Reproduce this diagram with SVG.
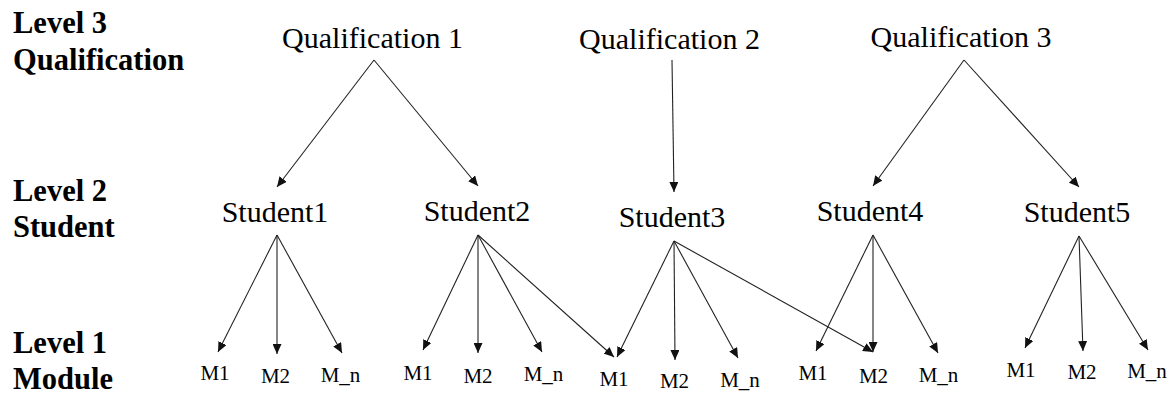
<svg xmlns="http://www.w3.org/2000/svg" width="1176" height="394" viewBox="0 0 1176 394">
<style>
text{font-family:'Liberation Serif','Times New Roman',serif;fill:#000}
.lvl{font-weight:bold;font-size:30.5px}
.n{font-size:30px;text-anchor:middle}
.m{font-size:21px;text-anchor:middle}
.c line{stroke:#222;stroke-width:1.1;marker-end:url(#ah)}
</style>
<defs>
<marker id="ah" markerUnits="userSpaceOnUse" markerWidth="11" markerHeight="9" refX="10" refY="4.5" orient="auto">
<path d="M0,0 L10,4.5 L0,9 z" fill="#111"/>
</marker>
</defs>
<rect width="1176" height="394" fill="#fff"/>
<g id="levels">
<text class="lvl" x="13" y="33">Level 3</text>
<text class="lvl" x="13" y="70">Qualification</text>
<text class="lvl" x="13" y="201">Level 2</text>
<text class="lvl" x="13" y="237">Student</text>
<text class="lvl" x="13" y="353">Level 1</text>
<text class="lvl" x="13" y="389">Module</text>
</g>
<g id="connectors" class="c">
<line x1="374" y1="60" x2="277" y2="187"/>
<line x1="374" y1="60" x2="478" y2="186"/>
<line x1="672" y1="60" x2="674" y2="192"/>
<line x1="964" y1="60" x2="873" y2="186"/>
<line x1="964" y1="60" x2="1079" y2="187"/>
<line x1="277" y1="235" x2="218" y2="352"/>
<line x1="277" y1="235" x2="277" y2="354"/>
<line x1="277" y1="235" x2="342" y2="353"/>
<line x1="478" y1="235" x2="423" y2="350"/>
<line x1="478" y1="235" x2="478" y2="353"/>
<line x1="478" y1="235" x2="542" y2="352"/>
<line x1="478" y1="235" x2="614" y2="357"/>
<line x1="674" y1="241" x2="617" y2="357"/>
<line x1="674" y1="241" x2="675" y2="360"/>
<line x1="674" y1="241" x2="738" y2="358"/>
<line x1="674" y1="241" x2="873" y2="352"/>
<line x1="873" y1="235" x2="816" y2="351"/>
<line x1="873" y1="235" x2="873" y2="352"/>
<line x1="873" y1="235" x2="938" y2="353"/>
<line x1="1079" y1="236" x2="1025" y2="348"/>
<line x1="1079" y1="236" x2="1083" y2="351"/>
<line x1="1079" y1="236" x2="1148" y2="350"/>
</g>
<g id="q1"><text class="n" x="372.5" y="48">Qualification 1</text></g>
<g id="q2"><text class="n" x="669.5" y="49">Qualification 2</text></g>
<g id="q3"><text class="n" x="961" y="47">Qualification 3</text></g>
<g id="s1"><text class="n" x="275" y="222">Student1</text></g>
<g id="s2"><text class="n" x="477" y="221">Student2</text></g>
<g id="s3"><text class="n" x="672" y="227">Student3</text></g>
<g id="s4"><text class="n" x="870" y="221">Student4</text></g>
<g id="s5"><text class="n" x="1077" y="222">Student5</text></g>
<g id="s1-m1"><text class="m" x="215" y="380">M1</text></g>
<g id="s1-m2"><text class="m" x="275.5" y="383">M2</text></g>
<g id="s1-mn"><text class="m" x="340.5" y="382">M_n</text></g>
<g id="s2-m1"><text class="m" x="418" y="380">M1</text></g>
<g id="s2-m2"><text class="m" x="478" y="383">M2</text></g>
<g id="s2-mn"><text class="m" x="543.5" y="381">M_n</text></g>
<g id="s3-m1"><text class="m" x="614" y="386">M1</text></g>
<g id="s3-m2"><text class="m" x="674.5" y="388">M2</text></g>
<g id="s3-mn"><text class="m" x="740" y="387">M_n</text></g>
<g id="s4-m1"><text class="m" x="813" y="380">M1</text></g>
<g id="s4-m2"><text class="m" x="873.5" y="383">M2</text></g>
<g id="s4-mn"><text class="m" x="938.5" y="382">M_n</text></g>
<g id="s5-m1"><text class="m" x="1021" y="377">M1</text></g>
<g id="s5-m2"><text class="m" x="1082" y="379">M2</text></g>
<g id="s5-mn"><text class="m" x="1147" y="378">M_n</text></g>
</svg>
